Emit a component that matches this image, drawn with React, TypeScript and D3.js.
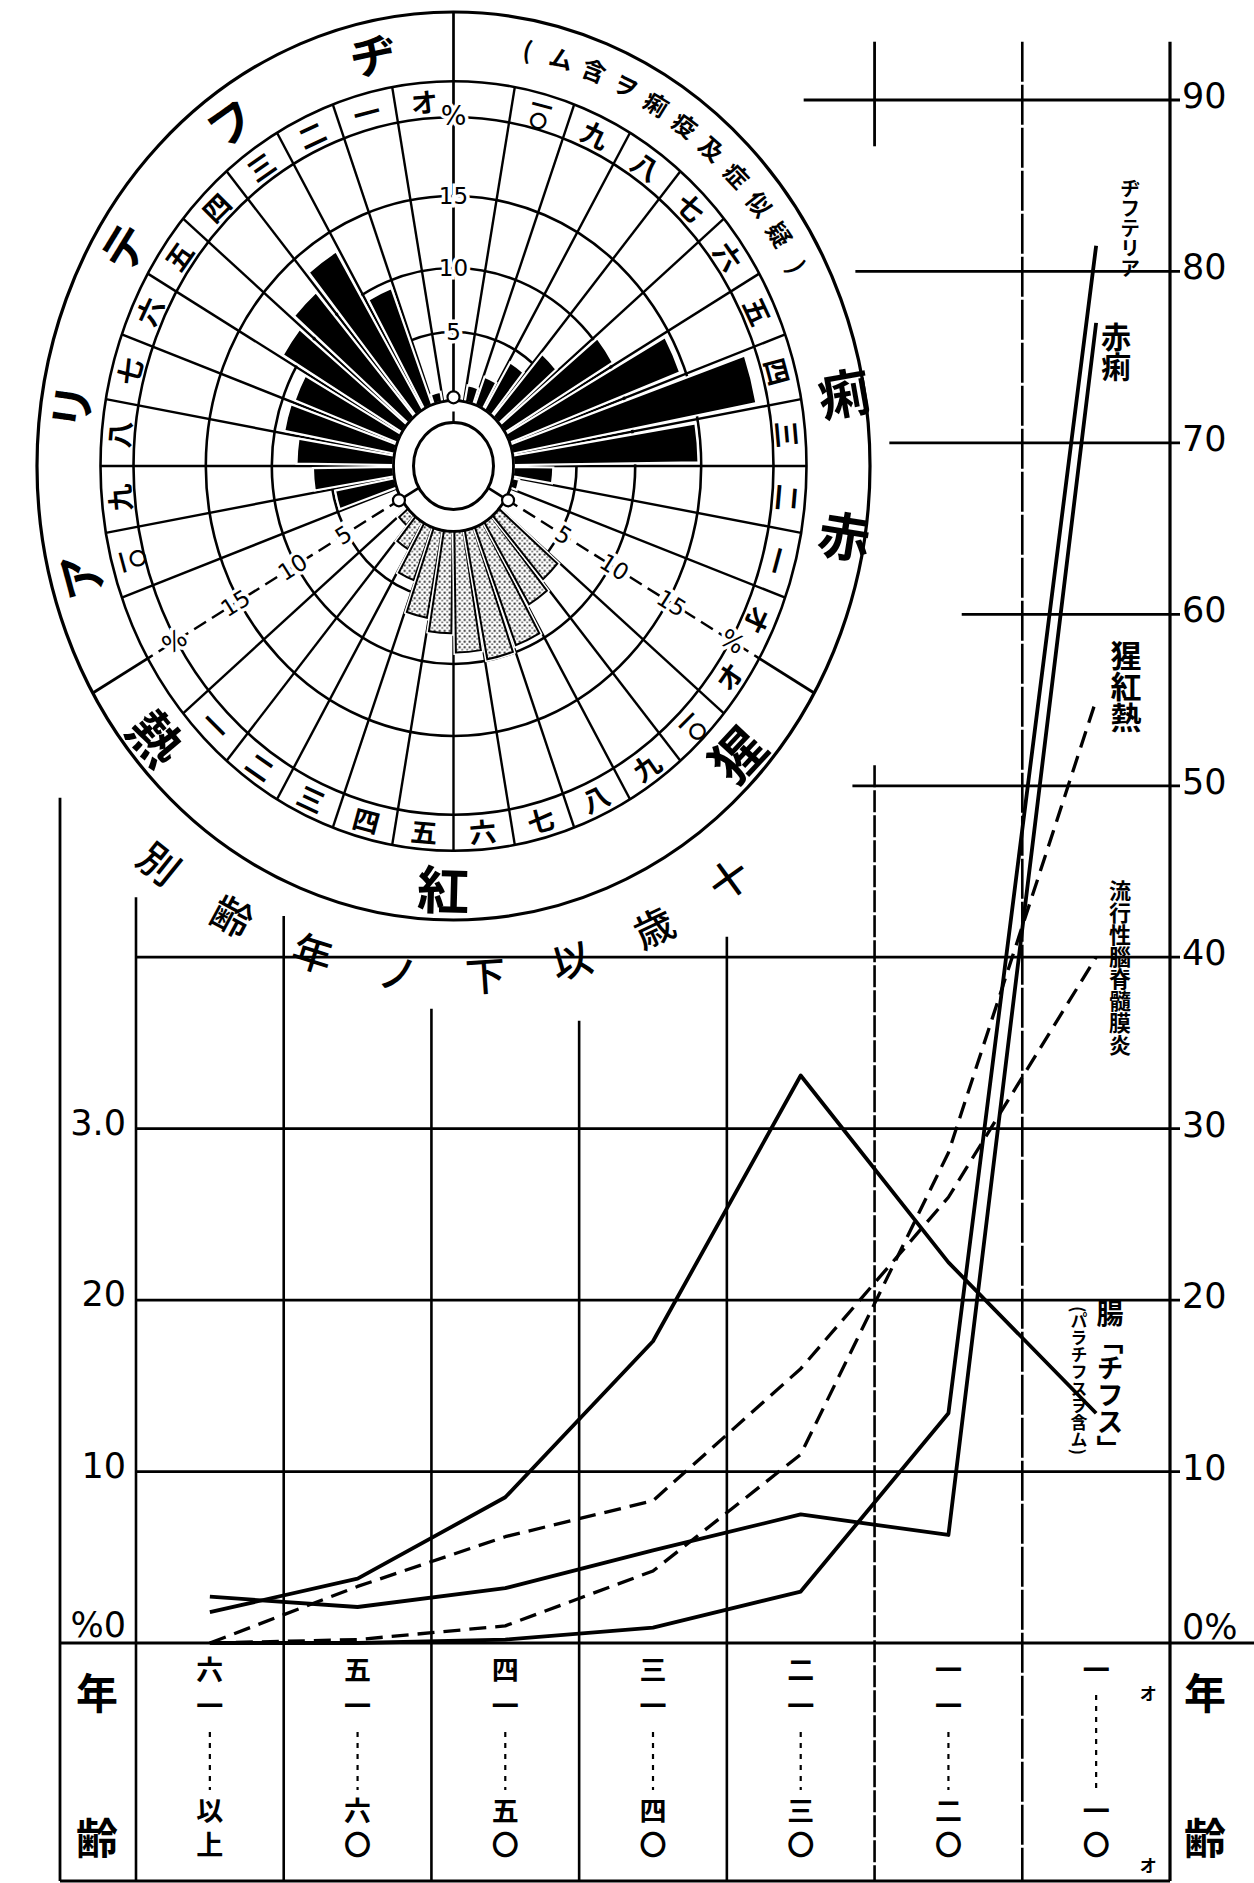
import React from "react";
import * as d3 from "d3";

// ---------------- line chart data ----------------
const ageGroups = ["六一以上", "五一－六〇", "四一－五〇", "三一－四〇", "二一－三〇", "一一－二〇", "一－一〇"];
const ageTopText = ["六一", "五一", "四一", "三一", "二一", "一一", "一"];
const ageBottomText = ["以上", "六〇", "五〇", "四〇", "三〇", "二〇", "一〇"];

const diphtheria = [0, 0, 0.2, 0.9, 3.0, 13.4, 81.5];
const dysentery = [2.7, 2.1, 3.2, 5.4, 7.5, 6.3, 77];
const scarlet = [0, 0.2, 1.0, 4.2, 11, 28.6, 55];
const meningitis = [0, 3.3, 6.2, 8.3, 16, 26, 40];
const typhoid = [1.8, 3.75, 8.5, 17.6, 33.1, 22.2, 13.4];

const rightTickValues = [0, 10, 20, 30, 40, 50, 60, 70, 80, 90];
const rightTickLabels = ["0%", "10", "20", "30", "40", "50", "60", "70", "80", "90"];
const leftTickValues = [0, 10, 20, 30];
const leftTickLabels = ["%0", "10", "20", "3.0"];
const gridStartCols = [-0.52, 0, 0, 0, 0, 4.85, 5.59, 5.1, 4.87, 4.52];
const vGridTop = [43.5, 42.4, 37, 36.3, 41.2, 51.2, 93.4, 93.4];

// ---------------- polar chart data (ages 1..10, %) ----------------
const diphBars = [0.6, 9.4, 13.6, 12.2, 11.3, 9.0, 9.2, 7.9, 6.5, 4.8];
const dysBars = [0.4, 3.1, 14.8, 19.2, 14.6, 10.3, 6.1, 4.0, 2.1, 1.1];
const scarBars = [0.8, 2.2, 4.1, 6.6, 7.6, 9.1, 9.9, 9.5, 7.1, 6.2];
const polarTicks = [5, 10, 15];
const monthLabels = ["一", "二", "三", "四", "五", "六", "七", "八", "九", "一〇"];

const diphName = ["ヂ", "フ", "テ", "リ", "ア"];
const dysNote = ["(", "ム", "含", "ヲ", "痢", "疫", "及", "症", "似", "疑", ")"];
const dysName = ["痢", "赤"];
const scarName = ["猩", "紅", "熱"];
const arcTitle = ["十", "歳", "以", "下", "ノ", "年", "齢", "別"];

const JP = "'Noto Sans CJK JP', 'Noto Sans CJK SC', sans-serif";
const NUM = "'DejaVu Sans', 'Liberation Sans', sans-serif";

const CX = 453.5, CY = 466, K = 1.09;
const HUB_IN = 40, HUB_OUT = 60, BAND_IN = 320, BAND_OUT = 353, OUTER = 416.5;
const polarR = d3.scaleLinear().domain([0, 5, 10, 15, 20]).range([62, 123, 181.7, 247.7, 320]);
const rad = (d: number) => (d * Math.PI) / 180;
const P = (deg: number, rho: number): [number, number] => [
  CX + rho * Math.sin(rad(deg)),
  CY - K * rho * Math.cos(rad(deg)),
];

function RT(props: any) {
  const { deg, rho, rot, size, children, family = JP, weight = 700, halo = false } = props;
  const [px, py] = P(deg, rho);
  return (
    <text
      transform={`translate(${px},${py}) rotate(${rot})`}
      textAnchor="middle"
      dominantBaseline="central"
      fontSize={size}
      fontFamily={family}
      fontWeight={weight}
      fill="#000"
      stroke={halo ? "#fff" : "none"}
      strokeWidth={halo ? 7 : 0}
      paintOrder="stroke"
    >
      {children}
    </text>
  );
}

function MonthLabel({ deg, label, rot }: any) {
  const [px, py] = P(deg, 336);
  if (label === "一〇") {
    return (
      <g transform={`translate(${px},${py}) rotate(${rot})`}>
        <text y={-8} textAnchor="middle" dominantBaseline="central" fontSize={22} fontFamily={JP} fontWeight={700}>一</text>
        <text y={8} textAnchor="middle" dominantBaseline="central" fontSize={18} fontFamily={JP} fontWeight={700}>〇</text>
      </g>
    );
  }
  return (
    <text transform={`translate(${px},${py}) rotate(${rot})`} textAnchor="middle" dominantBaseline="central" fontSize={27} fontFamily={JP} fontWeight={700}>
      {label}
    </text>
  );
}

function Polar() {
  const arcGen = d3.arc<any>();
  const rings = [HUB_IN, HUB_OUT, ...polarTicks.map((t) => polarR(t)), BAND_IN, BAND_OUT];
  const spokes = d3.range(0, 360, 10).filter((a) => a % 120 !== 0);
  const bar = (deg: number, v: number) =>
    arcGen({ innerRadius: HUB_OUT, outerRadius: polarR(v), startAngle: rad(deg - 4.2), endAngle: rad(deg + 4.2) }) as string;
  const ns = { vectorEffect: "non-scaling-stroke" } as any;
  return (
    <g>
      <defs>
        <pattern id="stip" width="5" height="5" patternUnits="userSpaceOnUse">
          <rect width="5" height="5" fill="#fff" />
          <circle cx="1.2" cy="1.2" r="1.05" fill="#222" />
          <circle cx="3.7" cy="3.6" r="0.8" fill="#333" />
        </pattern>
      </defs>
      <g transform={`translate(${CX},${CY}) scale(1,${K})`}>
        <ellipse cx={0} cy={0} rx={OUTER} ry={OUTER} fill="#fff" stroke="#000" strokeWidth={3.2} style={ns} />
        {rings.map((r, i) => (
          <circle key={i} cx={0} cy={0} r={r} fill="none" stroke="#000" strokeWidth={2.6} style={ns} />
        ))}
        {spokes.map((a) => (
          <line key={a} x1={HUB_OUT * Math.sin(rad(a))} y1={-HUB_OUT * Math.cos(rad(a))} x2={BAND_OUT * Math.sin(rad(a))} y2={-BAND_OUT * Math.cos(rad(a))} stroke="#000" strokeWidth={2.4} style={ns} />
        ))}
        <line x1={0} y1={-HUB_OUT} x2={0} y2={-OUTER} stroke="#000" strokeWidth={2.7} style={ns} />
        {[120, 240].map((a) => (
          <g key={a}>
            <line x1={HUB_OUT * Math.sin(rad(a))} y1={-HUB_OUT * Math.cos(rad(a))} x2={BAND_OUT * Math.sin(rad(a))} y2={-BAND_OUT * Math.cos(rad(a))} stroke="#000" strokeWidth={2.4} strokeDasharray="14 7" style={ns} />
            <line x1={BAND_OUT * Math.sin(rad(a))} y1={-BAND_OUT * Math.cos(rad(a))} x2={OUTER * Math.sin(rad(a))} y2={-OUTER * Math.cos(rad(a))} stroke="#000" strokeWidth={2.9} style={ns} />
          </g>
        ))}
        {diphBars.map((v, i) => (
          <path key={"d" + i} d={bar(-(15 + 10 * i), v)} fill="#000" stroke="#fff" strokeWidth={2.2} style={ns} />
        ))}
        {dysBars.map((v, i) => (
          <path key={"s" + i} d={bar(105 - 10 * i, v)} fill="#000" stroke="#fff" strokeWidth={2.2} style={ns} />
        ))}
        {scarBars.map((v, i) => (
          <g key={"c" + i}>
            <path d={bar(225 - 10 * i, v)} fill="#fff" stroke="#fff" strokeWidth={5} style={ns} />
            <path d={bar(225 - 10 * i, v)} fill="url(#stip)" stroke="#000" strokeWidth={2} style={ns} />
          </g>
        ))}
        <circle cx={0} cy={0} r={HUB_OUT} fill="#fff" stroke="#000" strokeWidth={2.8} style={ns} />
        <circle cx={0} cy={0} r={HUB_IN} fill="#fff" stroke="#000" strokeWidth={3} style={ns} />
        <line x1={0} y1={-HUB_IN} x2={0} y2={-HUB_IN - 10} stroke="#000" strokeWidth={2.4} style={ns} />
        {[120, 240].map((a) => (
          <line key={a} x1={HUB_IN * Math.sin(rad(a))} y1={-HUB_IN * Math.cos(rad(a))} x2={62 * Math.sin(rad(a))} y2={-62 * Math.cos(rad(a))} stroke="#000" strokeWidth={2.6} style={ns} />
        ))}
      </g>
      {[0, 120, 240].map((a) => {
        const [px, py] = P(a, 63);
        return <circle key={a} cx={px} cy={py} r={6} fill="#fff" stroke="#000" strokeWidth={2.2} />;
      })}
      {polarTicks.map((t) => (
        <RT key={t} deg={0} rho={polarR(t)} rot={0} size={23} family={NUM} weight={400} halo>
          {t}
        </RT>
      ))}
      <RT deg={0} rho={322} rot={0} size={27} family={NUM} weight={400} halo>%</RT>
      {[120, 240].map((a) => (
        <g key={a}>
          {polarTicks.map((t) => (
            <RT key={t} deg={a} rho={polarR(t) + 4} rot={a === 120 ? 32 : -32} size={23} family={NUM} weight={400} halo>
              {t}
            </RT>
          ))}
          <RT deg={a} rho={322} rot={a === 120 ? 32 : -32} size={25} family={NUM} weight={400} halo>%</RT>
        </g>
      ))}
      <MonthLabel deg={-5} label="オ" rot={-5} />
      {monthLabels.map((l, i) => (
        <MonthLabel key={"ml" + i} deg={-(15 + 10 * i)} label={l} rot={-(15 + 10 * i)} />
      ))}
      <MonthLabel deg={115} label="オ" rot={115} />
      {monthLabels.map((l, i) => (
        <MonthLabel key={"mr" + i} deg={105 - 10 * i} label={l} rot={105 - 10 * i} />
      ))}
      <MonthLabel deg={125} label="オ" rot={-55} />
      {monthLabels.map((l, i) => (
        <MonthLabel key={"mb" + i} deg={225 - 10 * i} label={l} rot={225 - 10 * i - 180} />
      ))}
      {diphName.map((c, i) => (
        <RT key={"dn" + i} deg={-12 - 23.3 * i} rho={388} rot={-12 - 23.3 * i} size={46}>
          {c}
        </RT>
      ))}
      {dysNote.map((c, i) => (
        <RT key={"nt" + i} deg={11 + 5.1 * i} rho={390} rot={11 + 5.1 * i} size={24}>
          {c}
        </RT>
      ))}
      {dysName.map((c, i) => (
        <RT key={"sn" + i} deg={80 + 19 * i} rho={396} rot={80 + 19 * i - 90} size={52}>
          {c}
        </RT>
      ))}
      {scarName.map((c, i) => (
        <RT key={"cn" + i} deg={133 + 48.5 * i} rho={386} rot={133 + 48.5 * i - 180} size={52}>
          {c}
        </RT>
      ))}
      {arcTitle.map((c, i) => (
        <RT key={"at" + i} deg={144 + 10.7 * i} rho={467} rot={144 + 10.7 * i - 180} size={40} weight={500}>
          {c}
        </RT>
      ))}
    </g>
  );
}

function LineChart() {
  const x = d3.scaleBand().domain(ageGroups).range([136, 1170]);
  const bw = x.bandwidth();
  const cx = (i: number) => (x(ageGroups[i]) as number) + bw / 2;
  const y = d3.scaleLinear().domain([0, 90]).range([1643, 100]);
  const x0 = x.range()[0];
  const xRight = x.range()[1];
  const bottom = 1881;
  const line = d3.line<number>().x((_, i) => cx(i)).y((d) => y(d));
  const series = [
    { v: diphtheria, dash: null },
    { v: dysentery, dash: null },
    { v: typhoid, dash: null },
    { v: scarlet, dash: "17 9" },
    { v: meningitis, dash: "17 9" },
  ];
  const g = { stroke: "#000", strokeWidth: 2.8 };
  const vert = { writingMode: "vertical-rl" } as any;
  return (
    <g>
      {rightTickValues.map((t, i) => (
        <line key={"h" + t} x1={x0 + gridStartCols[i] * bw} x2={t === 0 ? 1254 : xRight + 10} y1={y(t)} y2={y(t)} {...g} strokeWidth={t === 0 ? 3.2 : 2.8} />
      ))}
      {vGridTop.map((t, i) => (
        <line key={"v" + i} x1={x0 + i * bw} x2={x0 + i * bw} y1={y(t)} y2={bottom} {...g} strokeWidth={i === 7 ? 3.2 : 2.6} strokeDasharray={i === 5 ? "22 3" : i === 6 ? "40 3" : undefined} />
      ))}
      <line x1={x0 + 5 * bw} x2={x0 + 5 * bw} y1={y(93.4)} y2={y(87.3)} {...g} />
      <line x1={60} x2={60} y1={y(49.3)} y2={bottom} {...g} />
      <line x1={60} x2={xRight} y1={bottom} y2={bottom} {...g} strokeWidth={3.2} />
      {rightTickValues.map((t, i) => (
        <text key={"rl" + t} x={1182} y={t === 0 ? y(t) - 16 : y(t) - 4} fontSize={35} fontFamily={NUM} dominantBaseline="central">
          {rightTickLabels[i]}
        </text>
      ))}
      {leftTickValues.map((t, i) => (
        <text key={"ll" + t} x={126} y={t === 0 ? y(t) - 18 : y(t) - 6} fontSize={35} fontFamily={NUM} textAnchor="end" dominantBaseline="central">
          {leftTickLabels[i]}
        </text>
      ))}
      {series.map((s, i) => (
        <path key={"s" + i} d={line(s.v) as string} fill="none" stroke="#000" strokeWidth={s.dash ? 3.3 : 3.8} strokeDasharray={s.dash || undefined} strokeLinejoin="round" />
      ))}
      <text x={1130} y={178} fontSize={20} fontFamily={JP} fontWeight={700} style={vert}>ヂフテリア</text>
      <text x={1116} y={322} fontSize={30} fontFamily={JP} fontWeight={700} style={vert}>赤痢</text>
      <text x={1126} y={640} fontSize={31} fontFamily={JP} fontWeight={700} style={vert}>猩紅熱</text>
      <text x={1120} y={880} fontSize={22} fontFamily={JP} fontWeight={700} style={vert}>流行性腦脊髓膜炎</text>
      <text x={1110} y={1300} fontSize={27} fontFamily={JP} fontWeight={700} style={vert}>腸「チフス」</text>
      <text x={1079} y={1306} fontSize={17} fontFamily={JP} fontWeight={700} style={vert}>(パラチフスヲ含ム)</text>
      {["年", "齢"].map((c, i) => (
        <g key={c}>
          <text x={97} y={i === 0 ? 1690 : 1835} fontSize={42} fontFamily={JP} fontWeight={700} textAnchor="middle" dominantBaseline="central">{c}</text>
          <text x={1205} y={i === 0 ? 1690 : 1835} fontSize={42} fontFamily={JP} fontWeight={700} textAnchor="middle" dominantBaseline="central">{c}</text>
        </g>
      ))}
      {ageGroups.map((a, i) => (
        <g key={a}>
          <text x={cx(i)} y={1656} fontSize={27} fontFamily={JP} fontWeight={700} letterSpacing={9} style={vert}>{ageTopText[i]}</text>
          <line x1={cx(i)} x2={cx(i)} y1={ageTopText[i].length === 1 ? 1695 : 1732} y2={1790} stroke="#000" strokeWidth={2.2} strokeDasharray="5 6" />
          <text x={cx(i)} y={1797} fontSize={27} fontFamily={JP} fontWeight={700} letterSpacing={7} style={vert}>{ageBottomText[i]}</text>
        </g>
      ))}
      <text x={cx(6) + 52} y={1700} fontSize={17} fontFamily={JP} fontWeight={700} textAnchor="middle">オ</text>
      <text x={cx(6) + 52} y={1872} fontSize={17} fontFamily={JP} fontWeight={700} textAnchor="middle">オ</text>
    </g>
  );
}

export default function App() {
  return (
    <svg width={1254} height={1883} viewBox="0 0 1254 1883" style={{ position: "absolute", left: 0, top: 0, background: "#fff" }}>
      <rect width={1254} height={1883} fill="#fff" />
      <LineChart />
      <Polar />
    </svg>
  );
}
